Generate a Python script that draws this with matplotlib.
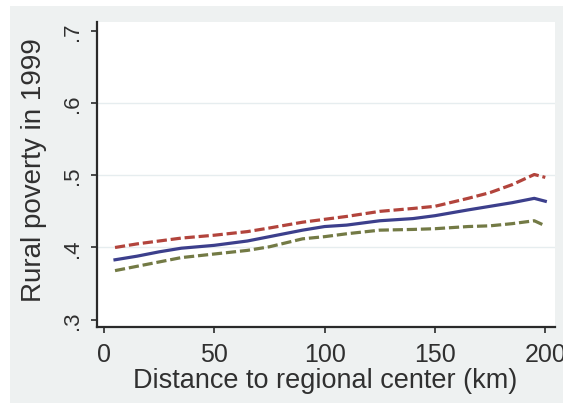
import matplotlib
matplotlib.use("Agg")
import matplotlib.pyplot as plt
from matplotlib.patches import Rectangle

# Data
distance = [5, 15, 25, 35, 50, 65, 75, 90, 100, 110, 125, 140, 150, 165, 175, 185, 195, 200]
upper_ci = [0.400, 0.405, 0.409, 0.413, 0.417, 0.422, 0.427, 0.435, 0.439, 0.443, 0.450, 0.454, 0.457, 0.468, 0.476, 0.487, 0.501, 0.497]
fitted = [0.383, 0.388, 0.394, 0.399, 0.403, 0.409, 0.415, 0.424, 0.429, 0.431, 0.437, 0.440, 0.444, 0.452, 0.457, 0.462, 0.468, 0.464]
lower_ci = [0.368, 0.374, 0.380, 0.386, 0.391, 0.396, 0.401, 0.412, 0.415, 0.419, 0.424, 0.425, 0.426, 0.429, 0.430, 0.433, 0.437, 0.430]

xticks = [0, 50, 100, 150, 200]
yticks = [0.3, 0.4, 0.5, 0.6, 0.7]
yticklabels = [".3", ".4", ".5", ".6", ".7"]

plt.rcParams['font.family'] = ['Liberation Sans', 'DejaVu Sans']

W, H = 563, 406
AX_L, AX_R, AX_T, AX_B = 96.7, 555, 23, 328
fig = plt.figure(figsize=(W / 100, H / 100), dpi=100, facecolor='white')
fig.patches.append(Rectangle((10 / W, (H - 404) / H), (W - 10) / W, (404 - 7) / H,
                             transform=fig.transFigure, facecolor='#eef1f1',
                             edgecolor='none', zorder=-10))

ax = fig.add_axes([AX_L / W, (H - AX_B) / H, (AX_R - AX_L) / W, (AX_B - AX_T) / H])
ax.set_facecolor('white')
ax.set_xlim(-3.3, 204.4)
ax.set_ylim(0.290, 0.712)

for y in [0.4, 0.5, 0.6]:
    ax.axhline(y, color='#e6edef', lw=1.0, zorder=1)

ax.plot(distance, upper_ci, color='#b2443c', lw=2.3, dashes=(3.2, 1.2), zorder=3)
ax.plot(distance, fitted, color='#3c3f8c', lw=2.3, zorder=3)
ax.plot(distance, lower_ci, color='#737a45', lw=2.3, dashes=(3.2, 1.2), zorder=3)

for s in ['top', 'right']:
    ax.spines[s].set_visible(False)
for s in ['left', 'bottom']:
    ax.spines[s].set_linewidth(1.6)
    ax.spines[s].set_color('#2a2a2a')

txt = '#303030'
ax.set_xticks(xticks)
ax.set_xticklabels([str(v) for v in xticks], fontsize=18, color=txt)
ax.set_yticks(yticks)
ax.set_yticklabels(yticklabels, fontsize=16, color=txt, rotation=90, va='center')
ax.tick_params(axis='both', length=4, width=1.2, color='#2a2a2a')
ax.tick_params(axis='x', pad=7)
ax.tick_params(axis='y', pad=6)

ax.set_xlabel('Distance to regional center (km)', fontsize=19.5, color=txt)
ax.xaxis.set_label_coords((325 - AX_L) / (AX_R - AX_L), (AX_B - 368) / (AX_B - AX_T))
ax.set_ylabel('Rural poverty in 1999', fontsize=20, color=txt)
ax.yaxis.set_label_coords((47 - AX_L) / (AX_R - AX_L), (AX_B - 170) / (AX_B - AX_T))

fig.savefig('out.png', dpi=100, facecolor='white')
